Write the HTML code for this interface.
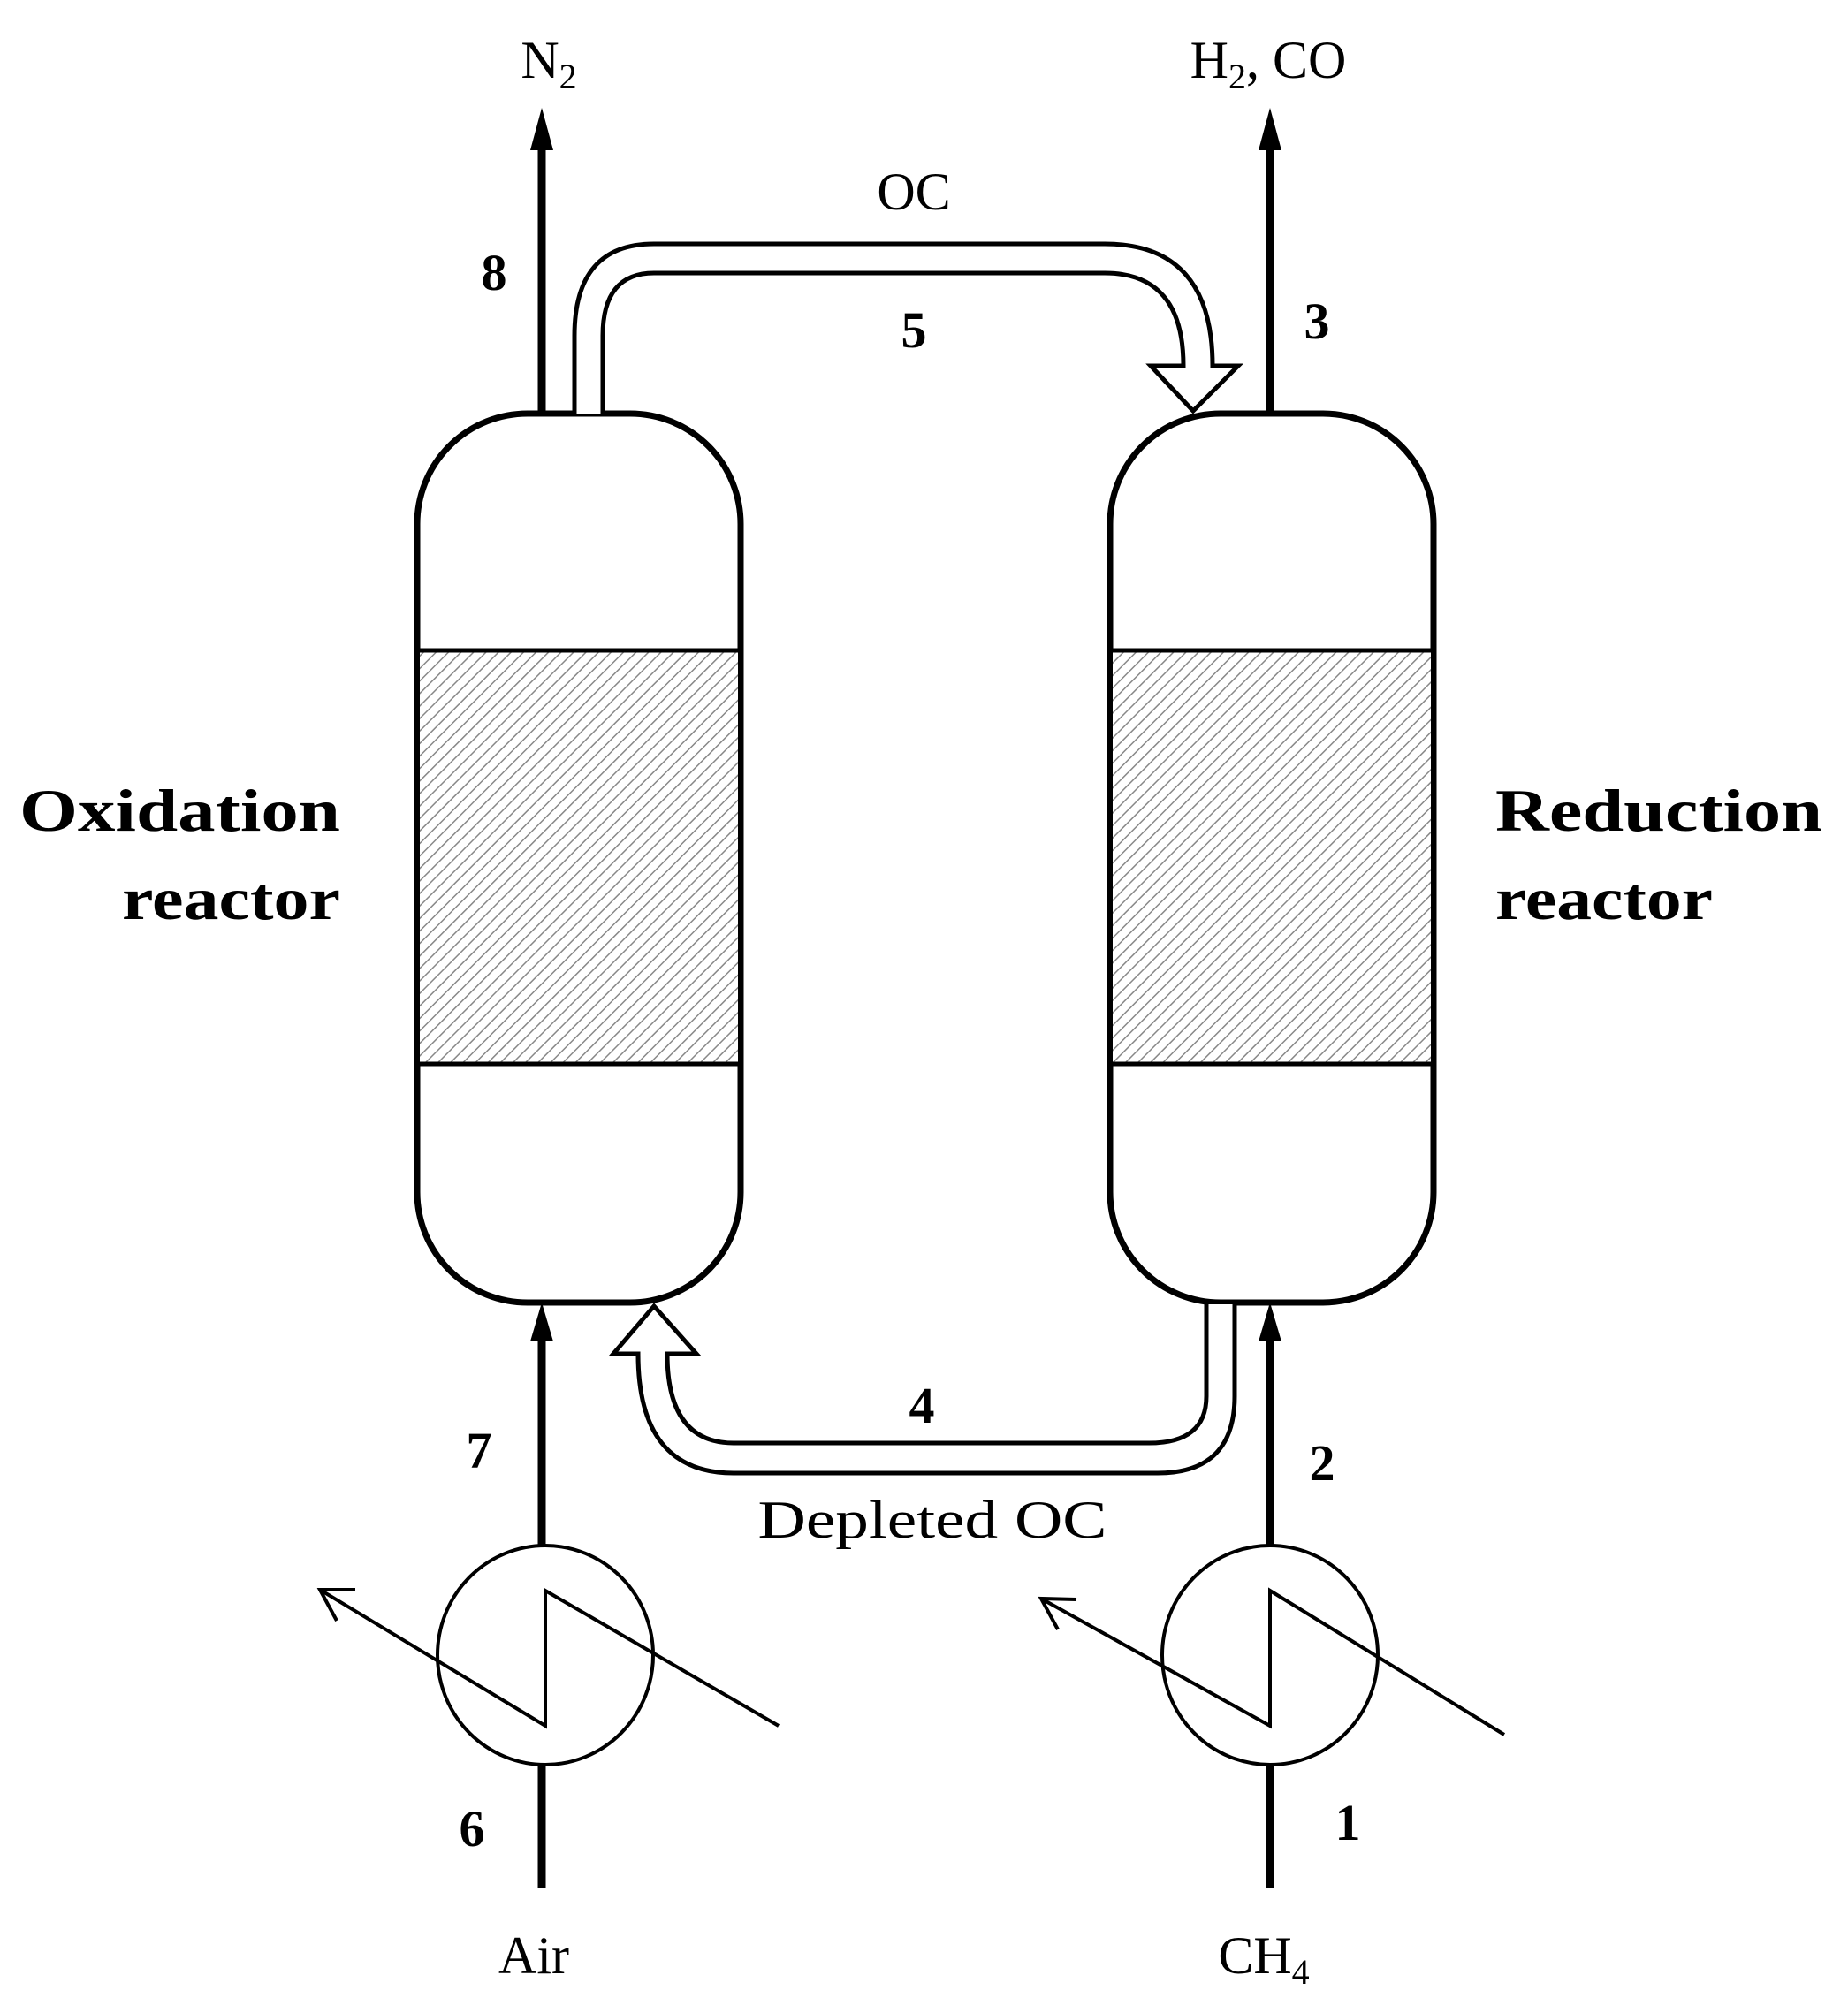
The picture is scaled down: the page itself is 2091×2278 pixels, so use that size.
<!DOCTYPE html>
<html><head><meta charset="utf-8"><style>html,body{margin:0;padding:0;background:#fff}svg{display:block}</style></head>
<body>
<svg width="2091" height="2278" viewBox="0 0 2091 2278" xmlns="http://www.w3.org/2000/svg">
<defs>
<pattern id="h" patternUnits="userSpaceOnUse" width="10" height="10" patternTransform="rotate(45)">
<rect width="10" height="10" fill="#fff"/><line x1="0" y1="0" x2="0" y2="10" stroke="#888" stroke-width="3"/>
</pattern>
</defs>
<g font-family="'Liberation Serif', serif" fill="#000">
<g stroke="#000" stroke-width="7" fill="#fff">
<rect x="472" y="468" width="366" height="1006" rx="125" ry="125"/>
<rect x="1256" y="468" width="366" height="1006" rx="125" ry="125"/>
</g>
<rect x="475" y="736" width="360" height="468" fill="url(#h)"/>
<rect x="1259" y="736" width="360" height="468" fill="url(#h)"/>
<g stroke="#000" stroke-width="5">
<line x1="474" y1="736" x2="836" y2="736"/><line x1="474" y1="1204" x2="836" y2="1204"/>
<line x1="1258" y1="736" x2="1620" y2="736"/><line x1="1258" y1="1204" x2="1620" y2="1204"/>
</g>
<g stroke="#000" stroke-width="9">
<line x1="613" y1="468" x2="613" y2="170"/>
<line x1="1437" y1="468" x2="1437" y2="170"/>
<line x1="613" y1="1750" x2="613" y2="1510"/>
<line x1="1437" y1="1750" x2="1437" y2="1510"/>
<line x1="613" y1="1997" x2="613" y2="2137"/>
<line x1="1437" y1="1997" x2="1437" y2="2137"/>
</g>
<polygon points="613,122 600,170 626,170"/>
<polygon points="1437,122 1424,170 1450,170"/>
<polygon points="613,1474 600,1518 626,1518"/>
<polygon points="1437,1474 1424,1518 1450,1518"/>
<path d="M650,468 V380 Q650,276 740,276 H1250 Q1372,276 1372,414 L1401,414 L1350,465 L1302,414 L1339,414 Q1339,309 1250,309 H740 Q682,309 682,380 V468" fill="#fff" stroke="#000" stroke-width="5"/>
<path d="M1397,1476 V1580 Q1397,1667 1310,1667 H830 Q722,1667 722,1532 L694,1532 L740,1478 L788,1532 L755,1532 Q755,1633 830,1633 H1300 Q1365,1633 1365,1580 V1476" fill="#fff" stroke="#000" stroke-width="5"/>
<g stroke="#000" stroke-width="4" fill="none">
<ellipse cx="617" cy="1873" rx="122" ry="124"/>
<ellipse cx="1437" cy="1873" rx="122" ry="124"/>
<polyline points="362,1799 617,1953 617,1800 881,1953"/>
<polyline points="402,1799 362,1799 381,1834"/>
<polyline points="1178,1809 1437,1953 1437,1800 1702,1963"/>
<polyline points="1218,1810 1178,1809 1197,1844"/>
</g>
<g font-size="60" text-anchor="middle">
<text x="621" y="88">N<tspan font-size="40" dy="12">2</tspan></text>
<text x="1435" y="88">H<tspan font-size="40" dy="12">2</tspan><tspan dy="-12">, CO</tspan></text>
<text x="1034" y="237">OC</text>
<text x="1055" y="1740" textLength="395" lengthAdjust="spacingAndGlyphs">Depleted OC</text>
<text x="604" y="2233">Air</text>
<text x="1430" y="2233">CH<tspan font-size="40" dy="12">4</tspan></text>
</g>
<g font-size="58" font-weight="bold" text-anchor="middle">
<text x="559" y="328">8</text>
<text x="1034" y="393">5</text>
<text x="1490" y="383">3</text>
<text x="1043" y="1610">4</text>
<text x="542" y="1661">7</text>
<text x="1496" y="1675">2</text>
<text x="534" y="2089">6</text>
<text x="1525" y="2082">1</text>
</g>
<g font-size="68" font-weight="bold">
<text x="22" y="940" textLength="363" lengthAdjust="spacingAndGlyphs">Oxidation</text>
<text x="138" y="1040" textLength="247" lengthAdjust="spacingAndGlyphs">reactor</text>
<text x="1692" y="940" textLength="370" lengthAdjust="spacingAndGlyphs">Reduction</text>
<text x="1692" y="1040" textLength="246" lengthAdjust="spacingAndGlyphs">reactor</text>
</g>
</g>
</svg>
</body></html>
